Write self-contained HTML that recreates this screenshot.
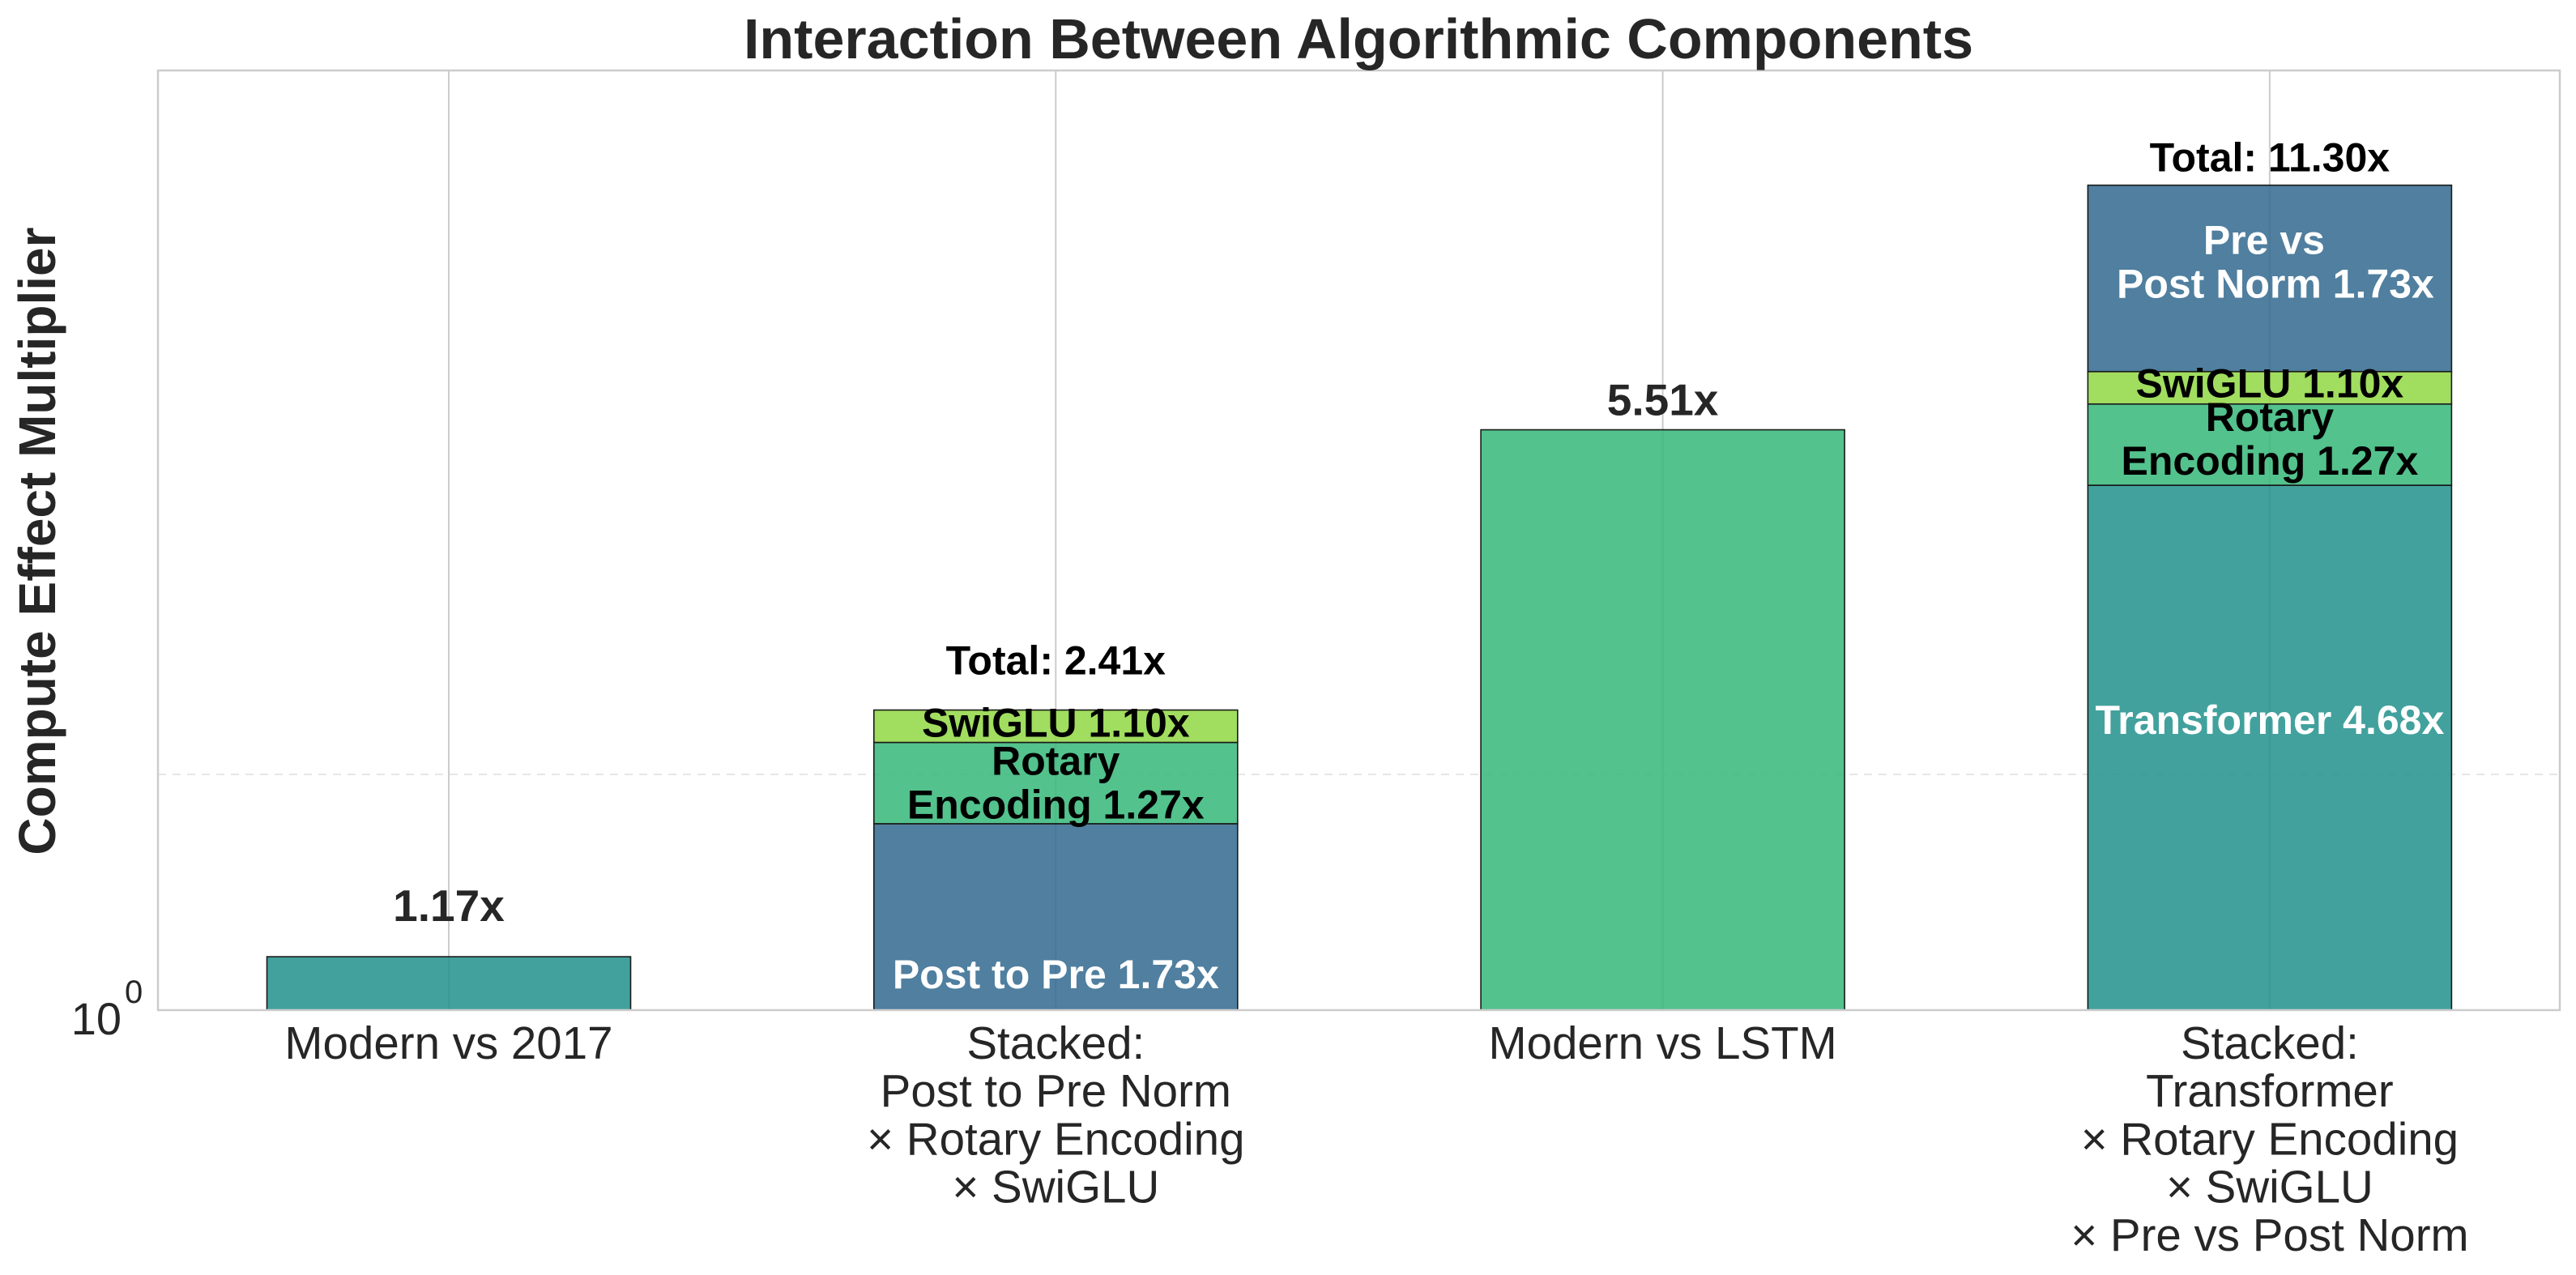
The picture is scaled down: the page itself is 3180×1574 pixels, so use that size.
<!DOCTYPE html>
<html><head><meta charset="utf-8"><style>
html,body{margin:0;padding:0;background:#fff;}
svg{display:block;font-family:"Liberation Sans",Arial,sans-serif;}
</style></head><body>
<svg id="chart" width="3180" height="1574" viewBox="0 0 3180 1574" xmlns="http://www.w3.org/2000/svg">
<rect x="0" y="0" width="3180" height="1574" fill="#fff"/>
<g id="grid"></g>
<g id="bars"></g>
<g id="labels"></g>
<g id="axes"></g>
<text x="1677" y="72" text-anchor="middle" font-size="70" font-weight="bold" fill="#262626">Interaction Between Algorithmic Components</text>
<text transform="translate(68,668) rotate(-90)" text-anchor="middle" font-size="64" font-weight="bold" fill="#262626">Compute Effect Multiplier</text>
<text x="150" y="1277" text-anchor="end" font-size="56" fill="#262626">10</text>
<text x="154" y="1238" font-size="40" fill="#262626">0</text>
</svg>
<script>
const categories = [
  ["Modern vs 2017"],
  ["Stacked:", "Post to Pre Norm", "× Rotary Encoding", "× SwiGLU"],
  ["Modern vs LSTM"],
  ["Stacked:", "Transformer", "× Rotary Encoding", "× SwiGLU", "× Pre vs Post Norm"]
];
const simpleValues = [1.17, null, 5.51, null];
const stack2Values = [1.73, 1.27, 1.10];
const stack4Values = [4.68, 1.27, 1.10, 1.73];
const stackTotals = [2.41, 11.30];
const yMinorGrid = [2];

const NS = "http://www.w3.org/2000/svg";
const AX = {left:195, right:3160, top:87, bottom:1247};
const X0 = 554, XSTEP = 749.3, BW = 449;
const LOGMIN = 0, LOGMAX = 1.2;
const IN = 50;
function xPos(i){ return X0 + i*XSTEP; }
function yPos(v){ return AX.bottom - (Math.log10(v)-LOGMIN)/(LOGMAX-LOGMIN)*(AX.bottom-AX.top); }
function mk(tag, attrs, parent){ const e=document.createElementNS(NS,tag); for(const k in attrs) e.setAttribute(k,attrs[k]); parent.appendChild(e); return e; }

const grid=document.getElementById('grid'), bars=document.getElementById('bars'), labels=document.getElementById('labels'), axes=document.getElementById('axes');

categories.forEach((c,i)=>{
  const l=mk('line',{x1:xPos(i),x2:xPos(i),y1:AX.top,y2:AX.bottom,stroke:'#cccccc','stroke-width':2},grid);
  
  
});
yMinorGrid.forEach(v=>{
  const l=mk('line',{x1:AX.left,x2:AX.right,y1:yPos(v),y2:yPos(v),stroke:'#e6e6e6','stroke-width':2,'stroke-dasharray':'10,8'},grid);
  
  
});

const COL = {teal:'#21918c', green:'#35b779', blue:'#31688e', lime:'#90d743'};
function bar(i, v0, v1, color, name){
  const r=mk('rect',{x:xPos(i)-BW/2,y:yPos(v1),width:BW,height:yPos(v0)-yPos(v1),fill:color,'fill-opacity':0.85,stroke:'#1a1a1a','stroke-width':1.6},bars);
  
  
}
function txt(x,y,s,size,color,name){
  const t=mk('text',{x:x,y:y,'text-anchor':'middle','font-size':size,'font-weight':'bold',fill:color},labels);
  t.textContent=s;
  
  
}

bar(0,1,simpleValues[0],COL.teal,'bar-modern-vs-2017');
txt(xPos(0),yPos(simpleValues[0])-44,simpleValues[0].toFixed(2)+'x',55,'#262626','value-label');
bar(2,1,simpleValues[2],COL.green,'bar-modern-vs-lstm');
txt(xPos(2),yPos(simpleValues[2])-18,simpleValues[2].toFixed(2)+'x',55,'#262626','value-label');

const s2col=[COL.blue,COL.green,COL.lime];
let cum=1;
const s2tops=[];
stack2Values.forEach((v,k)=>{ const n=cum*v; bar(1,cum,n,s2col[k],'bar-stack2-seg'+k); s2tops.push([cum,n]); cum=n; });
const t2=cum;
txt(xPos(1),yPos(1)-27,'Post to Pre '+stack2Values[0].toFixed(2)+'x',IN,'#ffffff','segment-label');
{ const m=(yPos(s2tops[1][0])+yPos(s2tops[1][1]))/2; txt(xPos(1),m-10,'Rotary',IN,'#000','segment-label'); txt(xPos(1),m+44,'Encoding '+stack2Values[1].toFixed(2)+'x',IN,'#000','segment-label'); }
{ const m=(yPos(s2tops[2][0])+yPos(s2tops[2][1]))/2; txt(xPos(1),m+13,'SwiGLU '+stack2Values[2].toFixed(2)+'x',IN,'#000','segment-label'); }
txt(xPos(1),yPos(t2)-44,'Total: '+stackTotals[0].toFixed(2)+'x',IN,'#000','total-label');

const s4col=[COL.teal,COL.green,COL.lime,COL.blue];
cum=1;
const s4tops=[];
stack4Values.forEach((v,k)=>{ const n=cum*v; bar(3,cum,n,s4col[k],'bar-stack4-seg'+k); s4tops.push([cum,n]); cum=n; });
const t4=cum;
{ const m=(yPos(s4tops[0][0])+yPos(s4tops[0][1]))/2; txt(xPos(3),m-17,'Transformer '+stack4Values[0].toFixed(2)+'x',IN,'#ffffff','segment-label'); }
{ const m=(yPos(s4tops[1][0])+yPos(s4tops[1][1]))/2; txt(xPos(3),m-17,'Rotary',IN,'#000','segment-label'); txt(xPos(3),m+37,'Encoding '+stack4Values[1].toFixed(2)+'x',IN,'#000','segment-label'); }
{ const m=(yPos(s4tops[2][0])+yPos(s4tops[2][1]))/2; txt(xPos(3),m+12,'SwiGLU '+stack4Values[2].toFixed(2)+'x',IN,'#000','segment-label'); }
{ const m=(yPos(s4tops[3][0])+yPos(s4tops[3][1]))/2; txt(xPos(3)-7,m-30,'Pre vs',IN,'#ffffff','segment-label'); txt(xPos(3)+7,m+24,'Post Norm '+stack4Values[3].toFixed(2)+'x',IN,'#ffffff','segment-label'); }
txt(xPos(3),yPos(t4)-17,'Total: '+stackTotals[1].toFixed(2)+'x',IN,'#000','total-label');

const sp=mk('rect',{x:AX.left,y:AX.top,width:AX.right-AX.left,height:AX.bottom-AX.top,fill:'none',stroke:'#cccccc','stroke-width':2.5},axes);



categories.forEach((lines,i)=>{
  lines.forEach((s,j)=>{
    const t=mk('text',{x:xPos(i),y:1307+j*59.2,'text-anchor':'middle','font-size':56.5,fill:'#262626'},axes);
    t.textContent=s;
    
    
  });
});
</script>
</body></html>
